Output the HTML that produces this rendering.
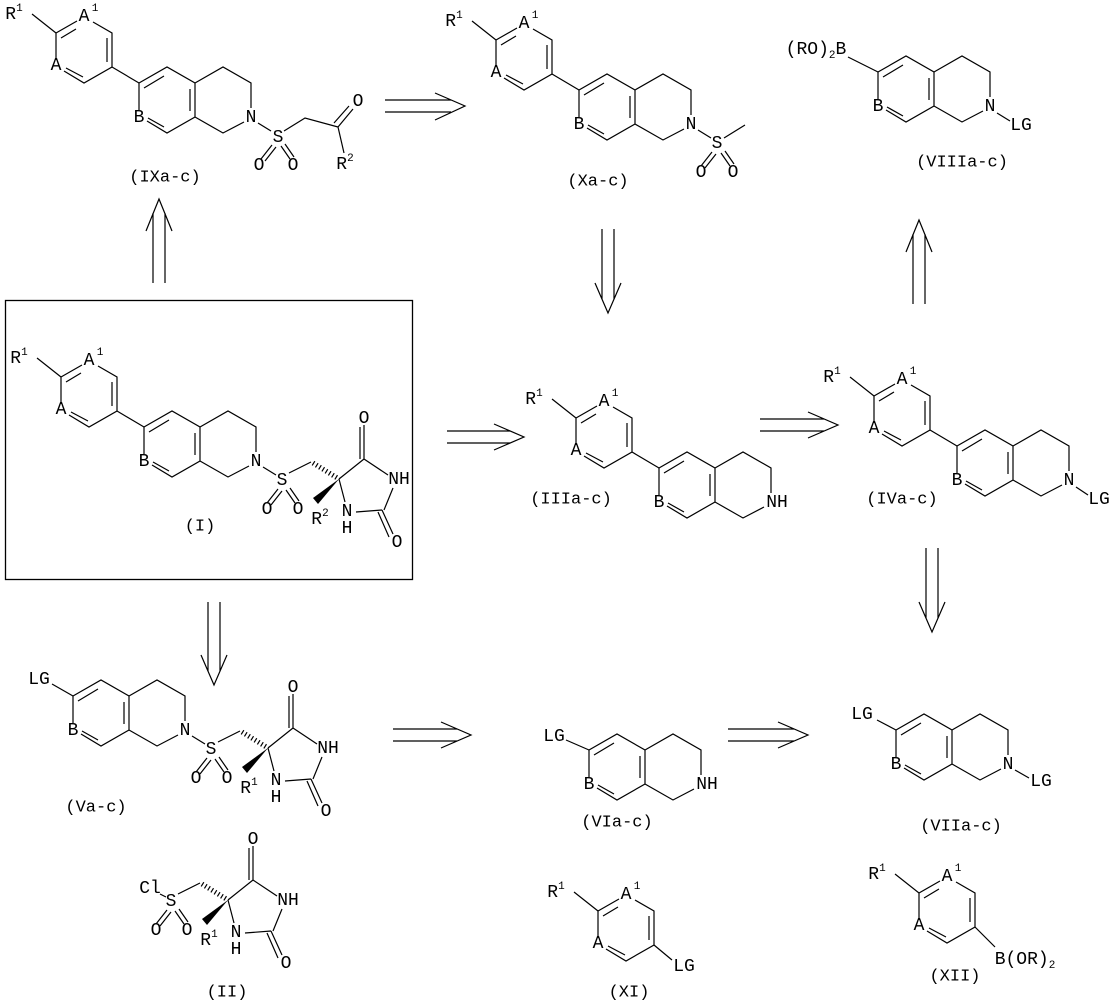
<!DOCTYPE html>
<html><head><meta charset="utf-8"><style>
html,body{margin:0;padding:0;background:#fff}
svg{display:block}
text{font-family:"Liberation Mono","DejaVu Sans Mono",monospace;font-size:18px;fill:#000;text-anchor:middle;dominant-baseline:central}
.s{font-size:11px}
.l{font-size:17px}
</style></head><body>
<svg width="1111" height="1004" viewBox="0 0 1111 1004" xmlns="http://www.w3.org/2000/svg">
<defs>
<g id="iso" stroke="#000" stroke-width="1.2" fill="none">
<path d="M139,83L167,67L195,83L195,117L167,133L147,121M139,110L139,83M144,88L164,76M190,89L190,111M164,127L148,118M195,83L223,67L251,83L251,108M244,122L223,133L195,117"/>
</g>
<g id="ph" stroke="#000" stroke-width="1.2" fill="none">
<path d="M32,14L56,33M56,33L77,21M93,22L112,33L112,67L84,83L64,71M56,60L56,33M61,38L76,29M107,38L107,62M83,77L66,68"/>
</g>
<g id="core">
<use href="#ph"/><use href="#iso"/>
<path d="M112,67L139,83" stroke="#000" stroke-width="1.2"/>
</g>
<g id="hyd" stroke="#000" stroke-width="1.2" fill="none">
<path d="M284,129L306,118M334,135L359,115M359,115L359,81M355,115L355,83M359,115L383,131M388,144L379,166M377,166L351,168M340,158L334,135M377,166L388,190M373,168L384,193M273,145L262,159M277,147L266,161M281,146L290,159M285,144L294,157"/>
<path d="M308,119L334,135" stroke-width="5" stroke-dasharray="1.2,2.6"/>
<polygon points="334,135 308,154 313,160" fill="#000" stroke="none"/>
</g>
</defs>

<!-- IXa-c -->
<g>
<use href="#core"/>
<path d="M258,123L271,131M284,131L305,118L338,127M338,127L353,109M334,123L349,106M338,127L344,153M272,145L261,159M276,147L265,161M281,146L290,159M285,144L294,157" stroke="#000" stroke-width="1.2" fill="none"/>
<text x="14" y="15">R<tspan class="s" dy="-6">1</tspan></text>
<text x="84" y="17">A</text><text class="s" x="95" y="9">1</text>
<text x="56" y="66">A</text><text x="139" y="118">B</text><text x="251" y="118">N</text>
<text x="278" y="138">S</text><text x="259" y="166">O</text><text x="293" y="166">O</text>
<text x="358" y="102">O</text>
<text x="345" y="165">R<tspan class="s" dy="-6">2</tspan></text>
<text class="l" x="165" y="178">(IXa-c)</text>
</g>

<!-- Xa-c -->
<g transform="translate(440,7)">
<use href="#core"/>
<path d="M258,123L271,131M284,131L305,118M272,145L261,159M276,147L265,161M281,146L290,159M285,144L294,157" stroke="#000" stroke-width="1.2" fill="none"/>
<text x="14" y="15">R<tspan class="s" dy="-6">1</tspan></text>
<text x="84" y="17">A</text><text class="s" x="95" y="9">1</text>
<text x="56" y="66">A</text><text x="139" y="118">B</text><text x="251" y="118">N</text>
<text x="277" y="137">S</text><text x="261" y="166">O</text><text x="293" y="166">O</text>
</g>
<text class="l" x="598" y="182">(Xa-c)</text>

<!-- VIIIa-c -->
<g transform="translate(739,-11)">
<use href="#iso"/>
<path d="M109,68L139,83M258,124L271,132" stroke="#000" stroke-width="1.2"/>
<text x="139" y="118">B</text><text x="251" y="118">N</text>
<text x="282" y="137">LG</text>
</g>
<text x="816" y="50">(RO)<tspan class="s" dy="6">2</tspan><tspan dy="-6">B</tspan></text>
<text class="l" x="962" y="163">(VIIIa-c)</text>

<!-- box (I) -->
<rect x="5.5" y="300.5" width="407" height="279" fill="none" stroke="#000" stroke-width="1.3"/>
<g transform="translate(5,344)">
<use href="#core"/><use href="#hyd"/>
<path d="M258,123L271,131" stroke="#000" stroke-width="1.2"/>
<text x="14" y="15">R<tspan class="s" dy="-6">1</tspan></text>
<text x="84" y="17">A</text><text class="s" x="95" y="9">1</text>
<text x="56" y="66">A</text><text x="139" y="118">B</text><text x="251" y="118">N</text>
<text x="277" y="137">S</text><text x="262" y="166">O</text><text x="293" y="166">O</text>
<text x="359" y="75">O</text><text x="394" y="136">NH</text>
<text x="342" y="168">N</text><text x="342" y="185">H</text>
<text x="392" y="199">O</text>
<text x="315" y="176">R<tspan class="s" dy="-6">2</tspan></text>
</g>
<text class="l" x="200" y="527">(I)</text>

<!-- IIIa-c -->
<g transform="translate(520,385)">
<use href="#core"/>
<text x="14" y="15">R<tspan class="s" dy="-6">1</tspan></text>
<text x="84" y="17">A</text><text class="s" x="95" y="9">1</text>
<text x="56" y="66">A</text><text x="139" y="118">B</text><text x="257" y="118">NH</text>
</g>
<text class="l" x="571" y="500">(IIIa-c)</text>

<!-- IVa-c -->
<g transform="translate(818,363)">
<use href="#core"/>
<path d="M258,124L270,132" stroke="#000" stroke-width="1.2"/>
<text x="14" y="15">R<tspan class="s" dy="-6">1</tspan></text>
<text x="84" y="17">A</text><text class="s" x="95" y="9">1</text>
<text x="56" y="66">A</text><text x="139" y="118">B</text><text x="251" y="118">N</text>
<text x="281" y="137">LG</text>
</g>
<text class="l" x="902" y="500">(IVa-c)</text>

<!-- Va-c -->
<g transform="translate(-66,613)">
<use href="#iso"/><use href="#hyd"/>
<path d="M118,71L139,83M258,123L271,131" stroke="#000" stroke-width="1.2"/>
<text x="105" y="67">LG</text>
<text x="139" y="118">B</text><text x="251" y="118">N</text>
<text x="277" y="137">S</text><text x="262" y="166">O</text><text x="293" y="166">O</text>
<text x="359" y="75">O</text><text x="394" y="136">NH</text>
<text x="342" y="168">N</text><text x="342" y="185">H</text>
<text x="392" y="199">O</text>
<text x="315" y="176">R<tspan class="s" dy="-6">1</tspan></text>
</g>
<text class="l" x="96" y="808">(Va-c)</text>

<!-- II -->
<g transform="translate(-106,765)">
<use href="#hyd"/>
<text x="277" y="137">S</text><text x="262" y="166">O</text><text x="293" y="166">O</text>
<text x="359" y="75">O</text><text x="394" y="136">NH</text>
<text x="342" y="168">N</text><text x="342" y="185">H</text>
<text x="392" y="199">O</text>
<text x="315" y="176">R<tspan class="s" dy="-6">1</tspan></text>
</g>
<text x="150" y="889">Cl</text>
<path d="M160,894L166,897" stroke="#000" stroke-width="1.2"/>
<text class="l" x="227" y="993">(II)</text>

<!-- VIa-c -->
<g transform="translate(450,667)">
<use href="#iso"/>
<path d="M116,73L139,83" stroke="#000" stroke-width="1.2"/>
<text x="104" y="70">LG</text>
<text x="139" y="118">B</text><text x="257" y="118">NH</text>
</g>
<text class="l" x="617" y="823">(VIa-c)</text>

<!-- VIIa-c -->
<g transform="translate(757,647)">
<use href="#iso"/>
<path d="M120,73L139,83M258,123L272,131" stroke="#000" stroke-width="1.2"/>
<text x="105" y="68">LG</text>
<text x="139" y="118">B</text><text x="251" y="118">N</text>
<text x="284" y="135">LG</text>
</g>
<text class="l" x="961" y="827">(VIIa-c)</text>

<!-- XI -->
<g transform="translate(542,878)">
<use href="#ph"/>
<path d="M112,67L130,82" stroke="#000" stroke-width="1.2"/>
<text x="14" y="15">R<tspan class="s" dy="-6">1</tspan></text>
<text x="84" y="17">A</text><text class="s" x="95" y="9">1</text>
<text x="56" y="66">A</text>
<text x="142" y="89">LG</text>
</g>
<text class="l" x="629" y="993">(XI)</text>

<!-- XII -->
<g transform="translate(863,860)">
<use href="#ph"/>
<path d="M112,67L132,87" stroke="#000" stroke-width="1.2"/>
<text x="14" y="15">R<tspan class="s" dy="-6">1</tspan></text>
<text x="84" y="17">A</text><text class="s" x="95" y="9">1</text>
<text x="56" y="66">A</text>
</g>
<text x="1025" y="960">B(OR)<tspan class="s" dy="6">2</tspan></text>
<text class="l" x="955" y="977">(XII)</text>

<!-- arrows -->
<g stroke="#000" stroke-width="1.2" fill="none">
<path d="M385,100L451,100M385,112L451,112M435,93L465,106L435,120"/>
<path d="M447,431L510,431M447,443L510,443M494,424L524,437L494,450"/>
<path d="M760,419L824,419M760,431L824,431M808,412L838,425L808,438"/>
<path d="M393,729L457,729M393,741L457,741M441,722L471,735L441,748"/>
<path d="M728,729L794,729M728,741L794,741M778,722L808,735L778,748"/>
<path d="M602,229L602,299M614,229L614,299M595,283L608,313L621,283"/>
<path d="M208,602L208,671M220,602L220,671M201,655L214,685L227,655"/>
<path d="M926,548L926,618M938,548L938,618M919,602L932,632L945,602"/>
<path d="M153,283L153,213M165,283L165,213M146,231L159,199L172,231"/>
<path d="M913,304L913,234M925,304L925,234M906,252L919,220L932,252"/>
</g>
</svg>
</body></html>
